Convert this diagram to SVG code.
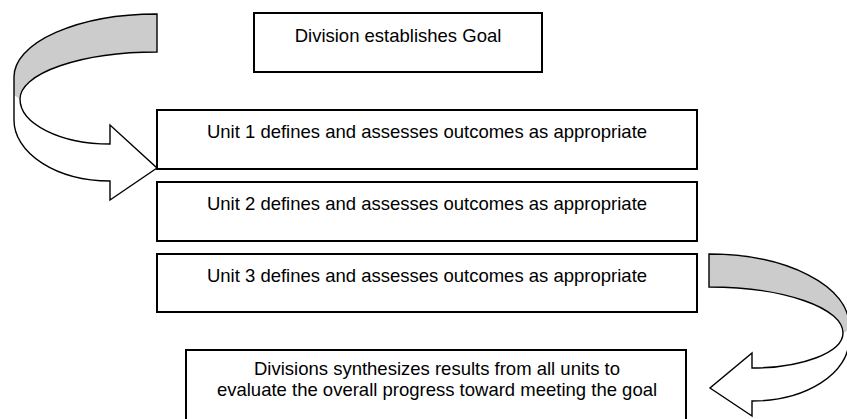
<svg xmlns="http://www.w3.org/2000/svg" width="847" height="419" viewBox="0 0 847 419">
<style>
.box{fill:#fff;stroke:#000;stroke-width:2}
.t{font-family:"Liberation Sans",Arial,sans-serif;font-size:18.5px;fill:#000;text-anchor:middle}
.af{fill:#fff;stroke:none}
.ag{fill:#ccc;stroke:none}
.as{fill:none;stroke:#000;stroke-width:1.4;stroke-linejoin:miter}
</style>
<rect width="847" height="419" fill="#fff"/>
<g id="connectors">
  <g id="arrow-left">
    <path class="af" d="M157,14 A143,63 0 0 0 14,77 L14,120 A96,61 0 0 0 110,181 L110,200 L157,168 L110,125 L110,144 A90,45 0 0 1 20,99 A137,47 0 0 1 157,52 Z"/>
    <path class="ag" d="M157,14 A143,63 0 0 0 14,77 L14,95 L20,99 A137,47 0 0 1 157,52 Z"/>
    <path class="as" d="M157,14 A143,63 0 0 0 14,77 L14,120 A96,61 0 0 0 110,181 L110,200 L157,168 L110,125 L110,144 A90,45 0 0 1 20,99 A137,47 0 0 1 157,52 Z"/>
  </g>
  <g id="arrow-right">
    <path class="af" d="M709,254 A140,71 0 0 1 849,325 L849,340 A97,61 0 0 1 752,401 L752,416 L710,388 L752,353 L752,368 A91,35 0 0 0 843,333 A134,46 0 0 0 709,287 Z"/>
    <path class="ag" d="M709,254 A140,71 0 0 1 849,325 L849,330 L843,333 A134,46 0 0 0 709,287 Z"/>
    <path class="as" d="M709,254 A140,71 0 0 1 849,325 L849,340 A97,61 0 0 1 752,401 L752,416 L710,388 L752,353 L752,368 A91,35 0 0 0 843,333 A134,46 0 0 0 709,287 Z"/>
  </g>
</g>
<g id="goal">
  <rect class="box" x="254" y="13" width="288" height="59"/>
  <text class="t" x="398" y="42">Division establishes Goal</text>
</g>
<g id="unit1">
  <rect class="box" x="157" y="110" width="540" height="59"/>
  <text class="t" x="427" y="137.5">Unit 1 defines and assesses outcomes as appropriate</text>
</g>
<g id="unit2">
  <rect class="box" x="157" y="182" width="540" height="59"/>
  <text class="t" x="427" y="209.5">Unit 2 defines and assesses outcomes as appropriate</text>
</g>
<g id="unit3">
  <rect class="box" x="157" y="254" width="540" height="58"/>
  <text class="t" x="427" y="281.5">Unit 3 defines and assesses outcomes as appropriate</text>
</g>
<g id="synthesis">
  <rect class="box" x="186" y="350" width="500" height="90"/>
  <text class="t" x="437" y="375">Divisions synthesizes results from all units to</text>
  <text class="t" x="437" y="396">evaluate the overall progress toward meeting the goal</text>
</g>
</svg>
